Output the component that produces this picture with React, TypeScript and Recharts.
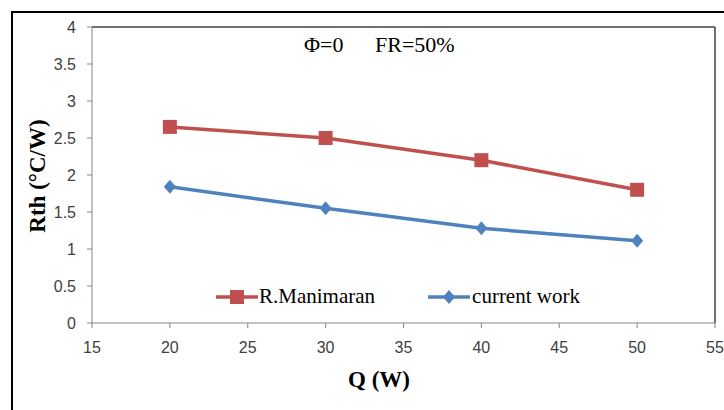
import React from "react";
import { LineChart, Line, XAxis, YAxis, ReferenceLine } from "recharts";

const powers = [20, 30, 40, 50];
const manimaran = [2.65, 2.5, 2.2, 1.8];
const currentWork = [1.84, 1.55, 1.28, 1.11];
const xTicks = [15, 20, 25, 30, 35, 40, 45, 50, 55];
const yTicks = [0, 0.5, 1, 1.5, 2, 2.5, 3, 3.5, 4];

const RED = "#C0504D";
const BLUE = "#4F81BD";
const serif = "'Liberation Serif', 'Times New Roman', serif";
const sans = "'Liberation Sans', Arial, sans-serif";

const data = powers.map((q, i) => ({ q, man: manimaran[i], cur: currentWork[i] }));

const Square = (props: any) => {
  const { cx, cy, key } = props;
  return <rect key={key} x={cx - 7} y={cy - 7} width={14} height={14} fill={RED} />;
};

const Diamond = (props: any) => {
  const { cx, cy, key } = props;
  return (
    <path key={key} d={`M${cx},${cy - 7} L${cx + 6},${cy} L${cx},${cy + 7} L${cx - 6},${cy} Z`} fill={BLUE} />
  );
};

const LegendBox = () => (
  <div
    style={{
      position: "absolute",
      left: 216,
      top: 284,
      display: "flex",
      fontFamily: serif,
      fontSize: 21,
      color: "#000",
      alignItems: "center",
    }}
  >
    <svg width={42} height={20}>
      <line x1={0} y1={10} x2={42} y2={10} stroke={RED} strokeWidth={3.5} />
      <rect x={14} y={3} width={14} height={14} fill={RED} />
    </svg>
    <span style={{ marginLeft: 1 }}>R.Manimaran</span>
    <svg width={42} height={20} style={{ marginLeft: 53 }}>
      <line x1={0} y1={10} x2={42} y2={10} stroke={BLUE} strokeWidth={3.5} />
      <path d="M21,3 L27,10 L21,17 L15,10 Z" fill={BLUE} />
    </svg>
    <span style={{ marginLeft: 2 }}>current work</span>
  </div>
);

export default function App() {
  return (
    <div style={{ position: "absolute", left: 0, top: 0, width: 724, height: 410, overflow: "hidden", background: "#fff" }}>
      <div style={{ position: "absolute", left: 11, top: 11, width: 760, height: 460, border: "2px solid #000" }} />
      <LineChart
        width={724}
        height={410}
        data={data}
        margin={{ top: 27, right: 9, left: 0, bottom: 0 }}
        style={{ position: "absolute", left: 0, top: 0 }}
      >
        <XAxis
          dataKey="q"
          type="number"
          domain={[15, 55]}
          ticks={xTicks}
          height={87}
          stroke="#868686"
          tickSize={5}
          tick={{ fill: "#404040", fontFamily: sans, fontSize: 16 }}
          tickMargin={14}
        />
        <YAxis
          type="number"
          domain={[0, 4]}
          ticks={yTicks}
          width={92}
          stroke="#868686"
          tickSize={5}
          tick={{ fill: "#404040", fontFamily: sans, fontSize: 16 }}
          tickMargin={11}
        />
        <ReferenceLine y={4} stroke="#404040" strokeWidth={1.5} />
        <ReferenceLine x={55} stroke="#404040" strokeWidth={1.5} />
        <Line dataKey="man" stroke={RED} strokeWidth={3.5} dot={Square} isAnimationActive={false} />
        <Line dataKey="cur" stroke={BLUE} strokeWidth={3.5} dot={Diamond} isAnimationActive={false} />
      </LineChart>
      <LegendBox />
      <div style={{ position: "absolute", left: 304, top: 32, fontFamily: serif, fontSize: 22 }}>Φ=0</div>
      <div style={{ position: "absolute", left: 375, top: 32, fontFamily: serif, fontSize: 22 }}>FR=50%</div>
      <div style={{ position: "absolute", left: 348, top: 367, fontFamily: serif, fontSize: 23, fontWeight: "bold" }}>
        Q (W)
      </div>
      <div
        style={{
          position: "absolute",
          left: 38,
          top: 176,
          fontFamily: serif,
          fontSize: 23,
          fontWeight: "bold",
          whiteSpace: "nowrap",
          transform: "translate(-50%, -50%) rotate(-90deg)",
        }}
      >
        Rth (°C/W)
      </div>
    </div>
  );
}
